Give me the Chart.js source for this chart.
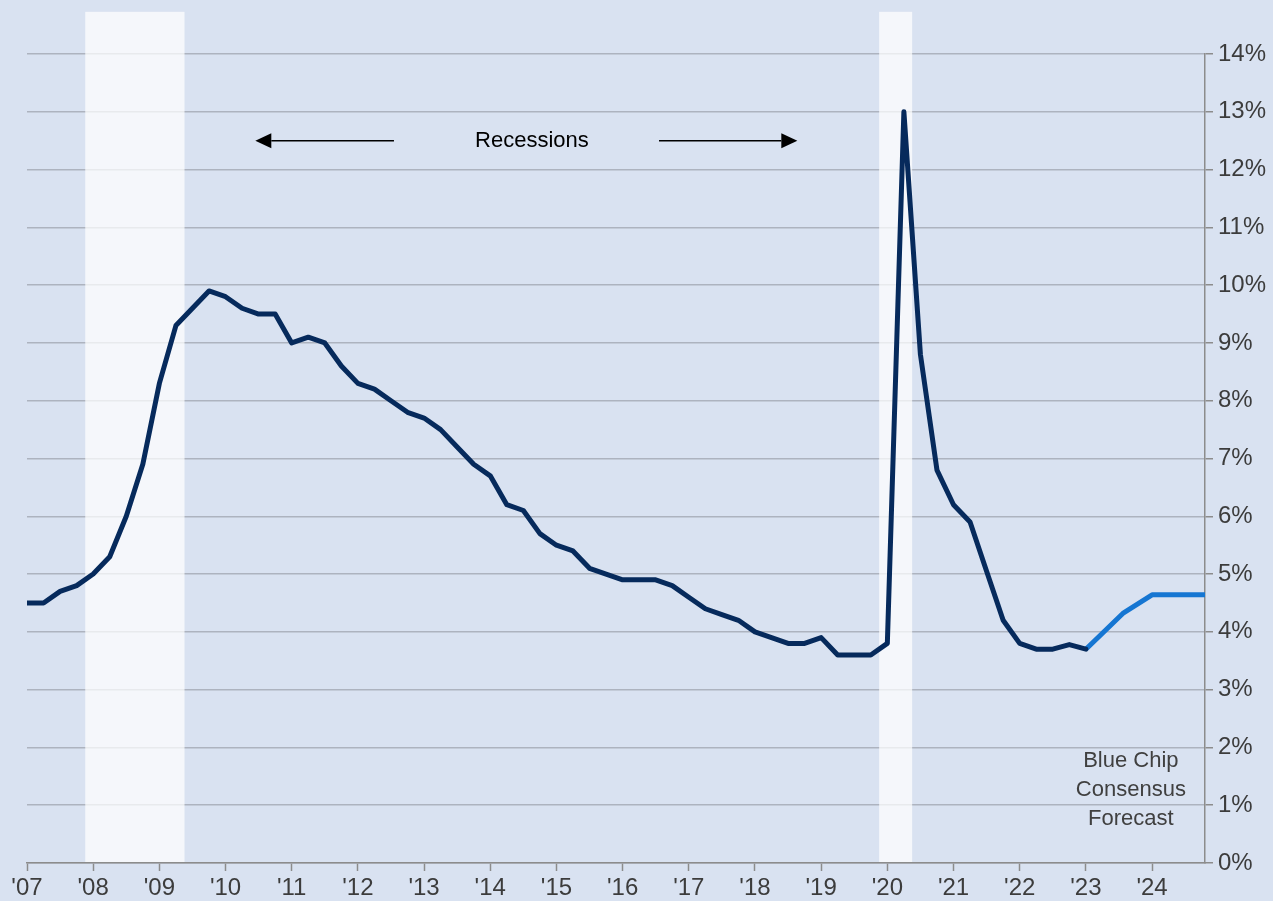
<!DOCTYPE html>
<html>
<head>
<meta charset="utf-8">
<script src="https://cdn.jsdelivr.net/npm/chart.js@4.4.1/dist/chart.umd.min.js"></script>
<style>
  html, body { margin: 0; padding: 0; background: #d9e2f1; }
  #wrap { width: 1273px; height: 901px; position: relative; }
</style>
</head>
<body>
<div id="wrap"><canvas id="unempChart"></canvas></div>
<script>
// quarterly history (decimal year) and unemployment rate, %
const histDates = [
  2007.00, 2007.25, 2007.50, 2007.75,
  2008.00, 2008.25, 2008.50, 2008.75,
  2009.00, 2009.25, 2009.50, 2009.75,
  2010.00, 2010.25, 2010.50, 2010.75,
  2011.00, 2011.25, 2011.50, 2011.75,
  2012.00, 2012.25, 2012.50, 2012.75,
  2013.00, 2013.25, 2013.50, 2013.75,
  2014.00, 2014.25, 2014.50, 2014.75,
  2015.00, 2015.25, 2015.50, 2015.75,
  2016.00, 2016.25, 2016.50, 2016.75,
  2017.00, 2017.25, 2017.50, 2017.75,
  2018.00, 2018.25, 2018.50, 2018.75,
  2019.00, 2019.25, 2019.50, 2019.75,
  2020.00, 2020.25, 2020.50, 2020.75,
  2021.00, 2021.25, 2021.50, 2021.75,
  2022.00, 2022.25, 2022.50, 2022.75,
  2023.00
];
const histRate = [
  4.5, 4.5, 4.7, 4.8,
  5.0, 5.3, 6.0, 6.9,
  8.3, 9.3, 9.6, 9.9,
  9.8, 9.6, 9.5, 9.5,
  9.0, 9.1, 9.0, 8.6,
  8.3, 8.2, 8.0, 7.8,
  7.7, 7.5, 7.2, 6.9,
  6.7, 6.2, 6.1, 5.7,
  5.5, 5.4, 5.1, 5.0,
  4.9, 4.9, 4.9, 4.8,
  4.6, 4.4, 4.3, 4.2,
  4.0, 3.9, 3.8, 3.8,
  3.9, 3.6, 3.6, 3.6,
  3.8, 13.0, 8.8, 6.8,
  6.2, 5.9, 5.05, 4.2,
  3.8, 3.7, 3.7, 3.78,
  3.7
];

// Blue Chip consensus forecast
const fcDates = [2023.00, 2023.57, 2024.00, 2024.80];
const fcRate = [3.7, 4.33, 4.64, 4.64];

// recession periods (start, end) in decimal years
const recessions = [[2007.88, 2009.38], [2019.876, 2020.375]];

const yTicks = [0, 1, 2, 3, 4, 5, 6, 7, 8, 9, 10, 11, 12, 13, 14];
const forecastNote = ['Blue Chip', 'Consensus', 'Forecast'];

const FONT = '"Liberation Sans", Arial, Helvetica, sans-serif';

const decor = {
  id: 'decor',
  beforeDraw(chart) {
    const ctx = chart.ctx;
    ctx.save();
    ctx.fillStyle = '#d9e2f1';
    ctx.fillRect(0, 0, chart.width, chart.height);
    ctx.restore();
  },
  beforeDatasetsDraw(chart) {
    const { ctx, chartArea, scales: { x, y } } = chart;
    ctx.save();
    ctx.fillStyle = 'rgba(255, 255, 255, 0.72)';
    const top = y.getPixelForValue(14.73);
    recessions.forEach(([a, b]) => {
      const x1 = x.getPixelForValue(a);
      const x2 = x.getPixelForValue(b);
      ctx.fillRect(x1, top, x2 - x1, chartArea.bottom - 1 - top);
    });
    ctx.restore();
  },
  afterDatasetsDraw(chart) {
    const { ctx, scales: { x, y } } = chart;
    ctx.save();

    // "Recessions" label with arrows
    const ay = y.getPixelForValue(12.5);
    ctx.strokeStyle = '#000';
    ctx.fillStyle = '#000';
    ctx.lineWidth = 1.5;
    const head = 16, half = 7.5;

    const lTip = x.getPixelForValue(2010.45);
    const lEnd = x.getPixelForValue(2012.545);
    ctx.beginPath();
    ctx.moveTo(lTip + head, ay);
    ctx.lineTo(lEnd, ay);
    ctx.stroke();
    ctx.beginPath();
    ctx.moveTo(lTip, ay);
    ctx.lineTo(lTip + head, ay - half);
    ctx.lineTo(lTip + head, ay + half);
    ctx.closePath();
    ctx.fill();

    const rStart = x.getPixelForValue(2016.55);
    const rTip = x.getPixelForValue(2018.64);
    ctx.beginPath();
    ctx.moveTo(rStart, ay);
    ctx.lineTo(rTip - head, ay);
    ctx.stroke();
    ctx.beginPath();
    ctx.moveTo(rTip, ay);
    ctx.lineTo(rTip - head, ay - half);
    ctx.lineTo(rTip - head, ay + half);
    ctx.closePath();
    ctx.fill();

    ctx.font = '22px ' + FONT;
    ctx.textAlign = 'center';
    ctx.textBaseline = 'middle';
    ctx.fillText('Recessions', x.getPixelForValue(2014.63), ay);

    // forecast note
    ctx.fillStyle = '#404040';
    const noteY = [1.76, 1.26, 0.76];
    forecastNote.forEach((t, i) => {
      ctx.fillText(t, x.getPixelForValue(2023.68), y.getPixelForValue(noteY[i]));
    });
    ctx.restore();
  }
};

document.addEventListener('DOMContentLoaded', () => {
  Chart.defaults.font.family = FONT;
  Chart.defaults.color = '#3c3c3c';

  new Chart(document.getElementById('unempChart'), {
    type: 'line',
    data: {
      datasets: [
        {
          label: 'Unemployment rate',
          data: histDates.map((d, i) => ({ x: d, y: histRate[i] })),
          borderColor: '#062a5c',
          borderWidth: 5,
          pointRadius: 0,
          tension: 0,
          borderJoinStyle: 'round',
          borderCapStyle: 'round',
          fill: false
        },
        {
          label: 'Blue Chip Consensus Forecast',
          data: fcDates.map((d, i) => ({ x: d, y: fcRate[i] })),
          borderColor: '#1676d2',
          borderWidth: 5,
          pointRadius: 0,
          tension: 0,
          borderJoinStyle: 'round',
          fill: false
        }
      ]
    },
    options: {
      responsive: true,
      maintainAspectRatio: false,
      animation: false,
      layout: { padding: { left: 27, top: 54, right: 0, bottom: 0 } },
      plugins: {
        legend: { display: false },
        tooltip: { enabled: false }
      },
      scales: {
        x: {
          type: 'linear',
          min: 2007,
          max: 2024.8,
          afterFit: (axis) => { axis.height = 38; },
          afterBuildTicks: (axis) => {
            axis.ticks = axis.ticks.filter(t => Number.isInteger(t.value));
          },
          ticks: {
            stepSize: 1,
            includeBounds: false,
            autoSkip: false,
            maxRotation: 0,
            padding: 3,
            font: { size: 24 },
            color: '#3c3c3c',
            callback: (v) => "'" + String(v).slice(2)
          },
          grid: {
            drawOnChartArea: false,
            drawTicks: true,
            tickLength: 8,
            tickColor: '#8c8c8c',
            tickWidth: 1.5
          },
          border: { display: true, color: '#8c8c8c', width: 1.5 }
        },
        y: {
          position: 'right',
          min: 0,
          max: 14,
          afterFit: (axis) => { axis.width = 68; },
          afterBuildTicks: (axis) => {
            axis.ticks = yTicks.map(v => ({ value: v }));
          },
          ticks: {
            padding: 5,
            font: { size: 24 },
            color: '#3c3c3c',
            callback: (v) => v + '%'
          },
          grid: {
            color: '#adb3bf',
            lineWidth: 1.5,
            tickLength: 8,
            tickColor: '#8c8c8c',
            tickWidth: 1.5
          },
          border: { display: true, color: '#8c8c8c', width: 1.5 }
        }
      }
    },
    plugins: [decor]
  });
});
</script>
</body>
</html>
